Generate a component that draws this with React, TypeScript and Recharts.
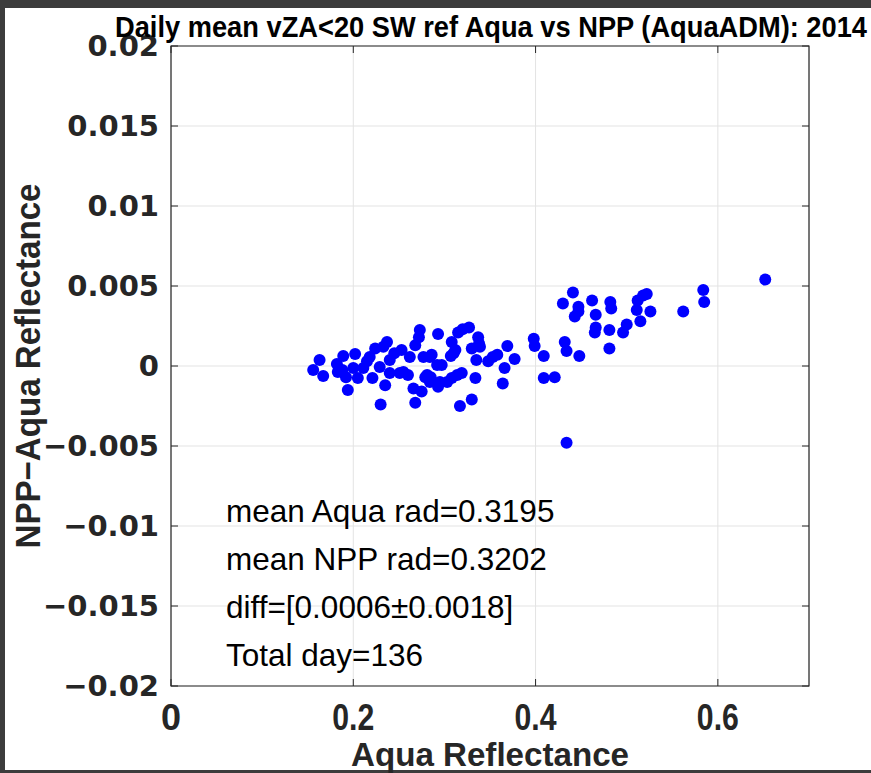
import React from 'react';
import { ScatterChart, Scatter, XAxis, YAxis, CartesianGrid, ReferenceArea } from 'recharts';

// Aqua reflectance (x) and NPP minus Aqua reflectance (y), one entry per day
const aquaRefl = [
  0.156, 0.163, 0.167, 0.182, 0.189, 0.188, 0.192, 0.194, 0.202, 0.2,
  0.205, 0.211, 0.215, 0.221, 0.224, 0.229, 0.23, 0.233, 0.237, 0.235,
  0.24, 0.24, 0.245, 0.253, 0.255, 0.26, 0.262, 0.268, 0.266, 0.268,
  0.272, 0.273, 0.275, 0.277, 0.279, 0.284, 0.285, 0.292, 0.293, 0.293,
  0.297, 0.303, 0.308, 0.307, 0.312, 0.314, 0.315, 0.317, 0.319, 0.32,
  0.327, 0.33, 0.33, 0.334, 0.337, 0.335, 0.339, 0.348, 0.353, 0.358,
  0.366, 0.364, 0.369, 0.377, 0.398, 0.399, 0.409, 0.409, 0.421, 0.43,
  0.441, 0.447, 0.447, 0.443, 0.432, 0.434, 0.448, 0.434, 0.462, 0.466,
  0.466, 0.465, 0.481, 0.481, 0.482, 0.483, 0.496, 0.5, 0.511, 0.515,
  0.512, 0.518, 0.522, 0.526, 0.562, 0.584, 0.585, 0.652, 0.286, 0.251,
  0.281, 0.284, 0.295, 0.308, 0.218, 0.183, 0.338, 0.31,
];
const nppMinusAqua = [
  -0.00025, 0.000375, -0.000625, 0.000125, 0.000625, -0.00025, -0.0007, -0.0015, 0.00075, -0.000125,
  -0.00075, -0.000125, 0.0003, -0.00075, 0.0011, -0.00006, -0.0024, 0.0012, 0.0015, -0.0012,
  0.000375, -0.00044, 0.0008, 0.001, -0.000375, -0.00056, 0.00056, 0.0013, -0.0014, -0.0023,
  0.0018, 0.00225, -0.0016, 0.00056, -0.0007, 0.00056, -0.0007, 0.00006, 0.002, -0.0013,
  0.00006, -0.001, 0.0015, 0.000625, 0.001, -0.00056, 0.0021, -0.0025, -0.00044, 0.0023,
  0.0024, 0.0011, -0.0021, -0.00075, 0.0018, 0.000375, 0.0012, 0.0003, 0.00056, 0.0007,
  -0.000125, -0.0011, 0.00125, 0.00044, 0.0017, 0.00125, 0.000625, -0.00075, -0.0007, 0.0039,
  0.0046, 0.0037, 0.0034, 0.0031, 0.0015, 0.00094, 0.000625, -0.0048, 0.0041, 0.0032,
  0.0024, 0.0021, 0.00225, 0.0011, 0.004, 0.0036, 0.0021, 0.0026, 0.0035, 0.0028,
  0.0041, 0.0044, 0.0045, 0.0034, 0.0034, 0.00475, 0.004, 0.0054, 0.0007, -0.00044,
  -0.00056, -0.001, -0.001, -0.00075, 0.00056, -0.000375, 0.0014, 0.0008,
];

const xTicks = [0, 0.2, 0.4, 0.6];
const xTickLabels = ['0', '0.2', '0.4', '0.6'];
const yTicks = [-0.02, -0.015, -0.01, -0.005, 0, 0.005, 0.01, 0.015, 0.02];
const yTickLabels = ['\u22120.02', '\u22120.015', '\u22120.01', '\u22120.005', '0', '0.005', '0.01', '0.015', '0.02'];

const title = 'Daily mean vZA<20 SW ref Aqua vs NPP (AquaADM): 2014';
const xLabel = 'Aqua Reflectance';
const yLabel = 'NPP\u2212Aqua Reflectance';
const statLines = ['mean Aqua rad=0.3195', 'mean NPP rad=0.3202', 'diff=[0.0006\u00b10.0018]', 'Total day=136'];

const data = aquaRefl.map((x, i) => ({ x, y: nppMinusAqua[i] }));

const W = 871;
const H = 773;
const PLOT = { left: 171, right: 809, top: 46, bottom: 686 };
const INK = '#262626';
// no condensed font installed, so the condensed labels are squeezed with textLength
const BOLD = { fontFamily: '"Liberation Sans", Arial, sans-serif', fontWeight: 700 };

const XTick = ({ x, payload }: any) => {
  const i = xTicks.indexOf(payload.value);
  const label = xTickLabels[i];
  return (
    <g>
      <line x1={x} x2={x} y1={PLOT.bottom} y2={PLOT.bottom - 7} stroke={INK} />
      <line x1={x} x2={x} y1={PLOT.top} y2={PLOT.top + 7} stroke={INK} />
      <text x={x} y={PLOT.bottom + 44} textAnchor="middle" fill={INK}
        textLength={label.length > 1 ? 42 : undefined} lengthAdjust="spacingAndGlyphs"
        style={{ ...BOLD, fontSize: 36 }}>
        {label}
      </text>
    </g>
  );
};

const YTick = ({ y, payload }: any) => {
  const i = yTicks.indexOf(payload.value);
  return (
    <g>
      <line x1={PLOT.left} x2={PLOT.left + 7} y1={y} y2={y} stroke={INK} />
      <line x1={PLOT.right - 7} x2={PLOT.right} y1={y} y2={y} stroke={INK} />
      <text x={PLOT.left - 12} y={y + 10} textAnchor="end" fill={INK}
        style={{ fontFamily: '"DejaVu Sans", sans-serif', fontWeight: 700, fontSize: 29 }}>
        {yTickLabels[i]}
      </text>
    </g>
  );
};

const Dot = ({ cx, cy }: any) => <circle cx={cx} cy={cy} r={6} fill="#0000ff" />;

export default function App() {
  return (
    <div style={{ position: 'relative', width: W, height: H, background: '#fff', overflow: 'hidden' }}>
      <style>{'body{margin:0}'}</style>
      <div style={{ position: 'absolute', left: 0, top: 0, width: W, height: 8, background: '#3c3c3c' }} />
      <div style={{ position: 'absolute', left: 0, top: 0, width: 5, height: H, background: '#3c3c3c' }} />
      <div style={{ position: 'absolute', left: 0, top: H - 3, width: W, height: 3, background: '#3c3c3c' }} />
      <div style={{ position: 'absolute', left: 0, top: 0 }}>
        <ScatterChart width={W} height={H} margin={{ top: PLOT.top, right: W - PLOT.right, bottom: 0, left: 0 }}>
          <CartesianGrid stroke="#e3e3e3" strokeWidth={1} />
          <XAxis type="number" dataKey="x" domain={[0, 0.7]} ticks={xTicks} height={H - PLOT.bottom}
            axisLine={false} tickLine={false} tick={<XTick />} allowDataOverflow />
          <YAxis type="number" dataKey="y" domain={[-0.02, 0.02]} ticks={yTicks} width={PLOT.left}
            axisLine={false} tickLine={false} tick={<YTick />} allowDataOverflow />
          <Scatter data={data} shape={<Dot />} isAnimationActive={false} />
          <ReferenceArea x1={0} x2={0.7} y1={-0.02} y2={0.02} fill="none" stroke={INK} strokeWidth={1.2} />
        </ScatterChart>
      </div>
      <svg width={W} height={H} style={{ position: 'absolute', left: 0, top: 0, pointerEvents: 'none' }}>
        <text x={491} y={37} textAnchor="middle" fill="#000" textLength={752} lengthAdjust="spacingAndGlyphs"
          style={{ ...BOLD, fontSize: 30 }}>{title}</text>
        {statLines.map((s, i) => (
          <text key={i} x={226} y={522 + i * 48} fill="#000"
            style={{ fontFamily: '"Liberation Sans", Arial, sans-serif', fontSize: 31.5 }}>{s}</text>
        ))}
        <text x={490} y={766} textAnchor="middle" fill={INK} textLength={278} lengthAdjust="spacingAndGlyphs"
          style={{ ...BOLD, fontSize: 34 }}>{xLabel}</text>
        <text x={0} y={0} transform="translate(40,366) rotate(-90)" textAnchor="middle" fill={INK}
          textLength={365} lengthAdjust="spacingAndGlyphs"
          style={{ ...BOLD, fontSize: 35 }}>{yLabel}</text>
      </svg>
    </div>
  );
}
